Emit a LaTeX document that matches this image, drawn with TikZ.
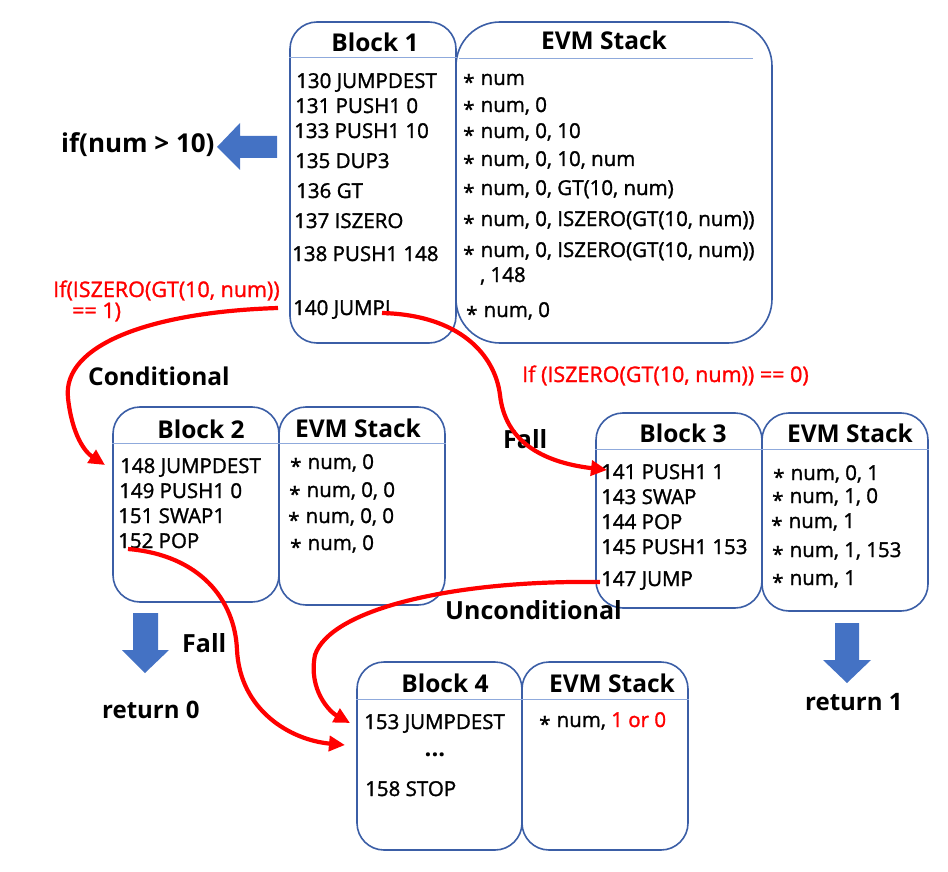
\documentclass[tikz,border=0pt]{standalone}
\usepackage{fontspec}
\setmainfont{Open Sans}
\newfontface\codeface{Open Sans}[FakeBold=1.4]
\usetikzlibrary{arrows.meta}
\definecolor{boxblue}{HTML}{3B5EA6}
\definecolor{hdrblue}{HTML}{8FAADC}
\definecolor{arrblue}{HTML}{4472C4}
\definecolor{redc}{HTML}{FF0000}
\newcommand{\stk}{\raisebox{-0.22em}{*}\hspace{0.3em}}
\begin{document}
\begin{tikzpicture}[x=1pt,y=-1pt,
  box/.style={draw=boxblue, line width=1.6pt, inner sep=0pt},
  code/.style={anchor=base west, inner sep=0pt, font=\codeface\fontsize{20.5}{23}\selectfont},
  ttl/.style={anchor=base, inner sep=0pt, font=\fontsize{24.5}{28}\selectfont\bfseries},
  lbl/.style={anchor=base west, inner sep=0pt, font=\fontsize{25}{28}\selectfont\bfseries},
  redlbl/.style={anchor=base west, inner sep=0pt, text=redc, font=\codeface\fontsize{21.5}{24}\selectfont},
  flow/.style={draw=redc, line width=4.2pt, -{Triangle[length=16pt,width=15pt]}},
  hdr/.style={draw=hdrblue, line width=1.2pt},
  bigarrow/.style={fill=arrblue}
]
\useasboundingbox (0,0) rectangle (948,872);

% ---------- boxes ----------
\node[box, rounded corners=27pt, minimum width=166pt, minimum height=321pt] (b1) at (373,182.5) {};
\node[box, rounded corners=44pt, minimum width=316pt, minimum height=321pt] (s1) at (614,182.5) {};
\node[box, rounded corners=27pt, minimum width=166pt, minimum height=195pt] (b2) at (196,504.5) {};
\node[box, rounded corners=27pt, minimum width=166pt, minimum height=198pt] (s2) at (362,506) {};
\node[box, rounded corners=27pt, minimum width=166pt, minimum height=195pt] (b3) at (679,510.5) {};
\node[box, rounded corners=27pt, minimum width=166pt, minimum height=198pt] (s3) at (845,512) {};
\node[box, rounded corners=27pt, minimum width=165pt, minimum height=188pt] (b4) at (439.5,756) {};
\node[box, rounded corners=27pt, minimum width=166pt, minimum height=188pt] (s4) at (605,756) {};

% ---------- header lines ----------
\draw[hdr] ([yshift=-36pt]b1.north west) -- ([yshift=-36pt]b1.north east);
\draw[hdr] ([xshift=4pt,yshift=-37pt]s1.north west) -- ([xshift=-20pt,yshift=-37pt]s1.north east);
\draw[hdr] ([yshift=-37pt]b2.north west) -- ([yshift=-37pt]b2.north east);
\draw[hdr] ([yshift=-37pt]s2.north west) -- ([yshift=-37pt]s2.north east);
\draw[hdr] ([yshift=-37pt]b3.north west) -- ([yshift=-37pt]b3.north east);
\draw[hdr] ([yshift=-37pt]s3.north west) -- ([yshift=-37pt]s3.north east);
\draw[hdr] ([yshift=-38pt]b4.north west) -- ([yshift=-38pt]b4.north east);
\draw[hdr] ([yshift=-38pt]s4.north west) -- ([yshift=-38pt]s4.north east);

% ---------- titles ----------
\node[ttl] (tb1) at (375,52) {Block 1};
\node[ttl] (ts1) at (604,50) {EVM Stack};
\node[ttl] (tb2) at (201,438) {Block 2};
\node[ttl] (ts2) at (358,437) {EVM Stack};
\node[ttl] (tb3) at (683,442) {Block 3};
\node[ttl] (ts3) at (850,442) {EVM Stack};
\node[ttl] (tb4) at (445,692) {Block 4};
\node[ttl] (ts4) at (612,692) {EVM Stack};

% ---------- block 1 ----------
\node[code] (t130) at (296,88) {130 JUMPDEST};
\node[code] (t131) at (295,113) {131 PUSH1 0};
\node[code] (t133) at (294,138) {133 PUSH1 10};
\node[code] (t135) at (295,168) {135 DUP3};
\node[code] (t136) at (296,198) {136 GT};
\node[code] (t137) at (294,228) {137 ISZERO};
\node[code] (t138) at (292,261) {138 PUSH1 148};
\node[code] (t140) at (293,315) {140 JUMPI};
\node[code] (k1) at (463,85) {\stk num};
\node[code] (k2) at (463,112) {\stk num, 0};
\node[code] (k3) at (463,138) {\stk num, 0, 10};
\node[code] (k4) at (463,166) {\stk num, 0, 10, num};
\node[code] (k5) at (463,195) {\stk num, 0, GT(10, num)};
\node[code] (k6) at (463,226) {\stk num, 0, ISZERO(GT(10, num))};
\node[code] (k7) at (463,257) {\stk num, 0, ISZERO(GT(10, num))};
\node[code] (k7b) at (480,282) {, 148};
\node[code] (k8) at (466,317) {\stk num, 0};

% ---------- block 2 ----------
\node[code] (t148) at (120,473) {148 JUMPDEST};
\node[code] (t149) at (119,498) {149 PUSH1 0};
\node[code] (t151) at (118,523) {151 SWAP1};
\node[code] (t152) at (118,548) {152 POP};
\node[code] (m1) at (290,469) {\stk num, 0};
\node[code] (m2) at (289,497) {\stk num, 0, 0};
\node[code] (m3) at (288,523) {\stk num, 0, 0};
\node[code] (m4) at (290,550) {\stk num, 0};

% ---------- block 3 ----------
\node[code] (t141) at (601,479) {141 PUSH1 1};
\node[code] (t143) at (601,504) {143 SWAP};
\node[code] (t144) at (601,529) {144 POP};
\node[code] (t145) at (601,554) {145 PUSH1 153};
\node[code] (t147) at (601,586) {147 JUMP};
\node[code] (n1) at (773,480) {\stk num, 0, 1};
\node[code] (n2) at (772,503) {\stk num, 1, 0};
\node[code] (n3) at (771,528) {\stk num, 1};
\node[code] (n4) at (772,557) {\stk num, 1, 153};
\node[code] (n5) at (772,585) {\stk num, 1};

% ---------- block 4 ----------
\node[code] (t153) at (364,729) {153 JUMPDEST};
\node[anchor=base, inner sep=0pt, font=\fontsize{24}{26}\selectfont\bfseries] (tdots) at (435,756) {...};
\node[code] (t158) at (365,796) {158 STOP};
\node[code] (p1) at (539,727) {\stk num, \textcolor{redc}{1 or 0}};

% ---------- labels ----------
\node[lbl, font=\fontsize{26}{30}\selectfont\bfseries] (lif) at (61,153) {if(num > 10)};
\node[redlbl] (r1a) at (53,297) {If(ISZERO(GT(10, num))};
\node[redlbl] (r1b) at (72,318) {== 1)};
\node[redlbl] (r2) at (522,382) {If (ISZERO(GT(10, num)) == 0)};
\node[lbl, font=\fontsize{24.5}{28}\selectfont\bfseries] (lcond) at (88,385) {Conditional};
\node[lbl] (lfall1) at (503,448) {Fall};
\node[lbl] (lfall2) at (182,652) {Fall};
\node[lbl] (luncond) at (445,619) {Unconditional};
\node[lbl, font=\fontsize{24}{28}\selectfont\bfseries] (ret0) at (102,718) {return 0};
\node[lbl, font=\fontsize{24}{28}\selectfont\bfseries] (ret1) at (805,710) {return 1};

% ---------- block arrows ----------
\fill[bigarrow] (217,147) -- (240,123) -- (240,136) -- (277,136) -- (277,158) -- (240,158) -- (240,170) -- cycle;
\fill[bigarrow] (133,613) -- (158,613) -- (158,650) -- (169,650) -- (145,673) -- (122,650) -- (133,650) -- cycle;
\fill[bigarrow] (835,623) -- (859,623) -- (859,660) -- (871,660) -- (847,683) -- (823,660) -- (835,660) -- cycle;

% ---------- red flow arrows ----------
\coordinate (a1s) at ([xshift=-15pt,yshift=7pt]t140.base west);
\coordinate (a2s) at ([xshift=89pt,yshift=2pt]t140.base west);
\coordinate (a3s) at ([xshift=10pt,yshift=-1pt]t152.base west);
\coordinate (a4s) at ([xshift=-1pt,yshift=4pt]t147.base west);
\draw[flow] (a1s) .. controls (150,312) and (62,345) .. (68,398)
   .. controls (72,435) and (85,452) .. ([xshift=-15pt,yshift=8pt]t148.base west);
\draw[flow] (a2s) .. controls (460,315) and (495,355) .. (500,395)
   .. controls (505,440) and (540,462) .. ([xshift=6pt,yshift=9pt]t141.base west);
\draw[flow] (a3s) .. controls (200,555) and (235,600) .. (237,650)
   .. controls (240,710) and (290,740) .. ([xshift=-19pt,yshift=-16pt]t153.base west);
\draw[flow] (a4s) .. controls (450,580) and (330,610) .. (315,655)
   .. controls (308,690) and (330,712) .. ([xshift=-14pt,yshift=6pt]t153.base west);
\end{tikzpicture}
\end{document}
